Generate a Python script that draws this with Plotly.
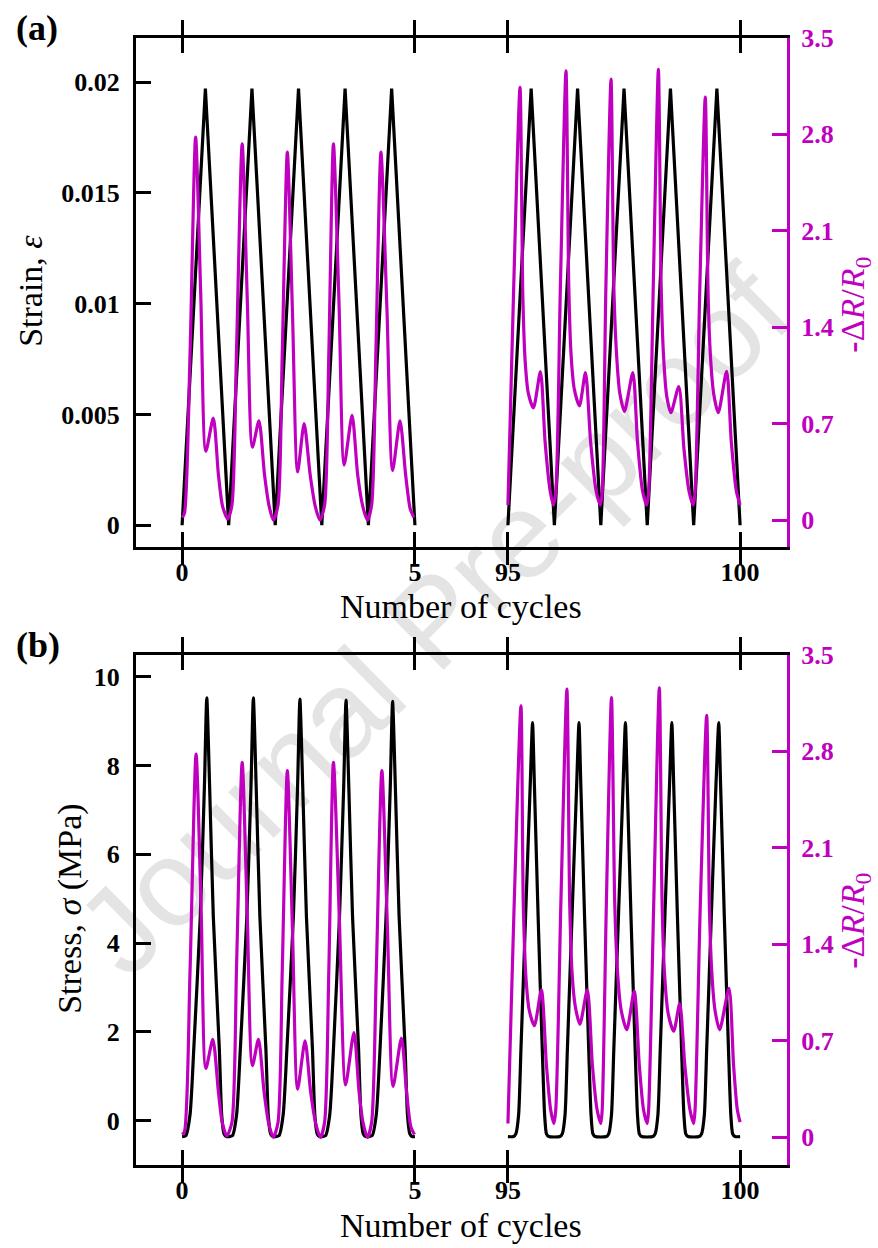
import plotly.graph_objects as go

# ---------------- data ----------------
# Panel (a): strain (black, left axis)
strain_x1 = [0, 0.5, 1, 1.5, 2, 2.5, 3, 3.5, 4, 4.5, 5]
strain_y1 = [0, 0.0197, 0, 0.0197, 0, 0.0197, 0, 0.0197, 0, 0.0197, 0]
strain_x2 = [95, 95.5, 96, 96.5, 97, 97.5, 98, 98.5, 99, 99.5, 100]
strain_y2 = [0, 0.0197, 0, 0.0197, 0, 0.0197, 0, 0.0197, 0, 0.0197, 0]

# Panel (a): -dR/R0 (magenta, right axis)
res_a_x1 = [0.00, 0.05, 0.17, 0.29, 0.40, 0.51, 0.67, 0.78, 0.87, 0.98,
            1.07, 1.17, 1.29, 1.40, 1.51, 1.65, 1.77, 1.87, 1.96,
            2.06, 2.15, 2.26, 2.37, 2.48, 2.62, 2.75, 2.86, 2.96,
            3.06, 3.15, 3.25, 3.37, 3.48, 3.65, 3.77, 3.88, 3.98,
            4.07, 4.16, 4.27, 4.40, 4.52, 4.68, 4.80, 4.90, 4.98]
res_a_y1 = [0.02, 0.05, 1.20, 2.78, 1.64, 0.50, 0.74, 0.33, 0.10, 0.01,
            0.11, 1.25, 2.73, 1.60, 0.53, 0.72, 0.33, 0.10, 0.00,
            0.11, 1.20, 2.67, 1.51, 0.35, 0.70, 0.33, 0.10, 0.00,
            0.11, 1.20, 2.73, 1.57, 0.40, 0.76, 0.33, 0.10, 0.00,
            0.11, 1.20, 2.67, 1.52, 0.36, 0.72, 0.33, 0.08, 0.02]
res_a_x2 = [95.00, 95.12, 95.26, 95.32, 95.37, 95.44, 95.55, 95.70, 95.80, 95.91, 95.98,
            96.03, 96.13, 96.25, 96.31, 96.36, 96.43, 96.54, 96.67, 96.78, 96.90, 96.99,
            97.03, 97.11, 97.22, 97.28, 97.34, 97.41, 97.51, 97.69, 97.79, 97.90, 97.99,
            98.03, 98.13, 98.24, 98.30, 98.35, 98.42, 98.51, 98.68, 98.79, 98.90, 98.99,
            99.03, 99.13, 99.25, 99.31, 99.36, 99.43, 99.53, 99.71, 99.81, 99.92, 100.00]
res_a_y2 = [0.11, 1.64, 3.14, 1.64, 1.16, 0.92, 0.815, 1.078, 0.57, 0.21, 0.11,
            0.20, 1.70, 3.26, 1.70, 1.20, 0.95, 0.83, 1.07, 0.57, 0.21, 0.11,
            0.20, 1.70, 3.20, 1.70, 1.20, 0.92, 0.79, 1.07, 0.57, 0.21, 0.11,
            0.20, 1.70, 3.27, 1.70, 1.20, 0.90, 0.78, 0.97, 0.52, 0.21, 0.11,
            0.20, 1.65, 3.07, 1.65, 1.20, 0.92, 0.78, 1.08, 0.57, 0.21, 0.11]

# Panel (b): stress in MPa (black, left axis)
stress_x1 = [0.00, 0.08, 0.17, 0.25, 0.39, 0.48, 0.53, 0.59, 0.67, 0.80, 0.85, 0.90, 0.95,
             1.08, 1.17, 1.25, 1.39, 1.48, 1.53, 1.59, 1.67, 1.80, 1.85, 1.90, 1.95,
             2.08, 2.17, 2.25, 2.39, 2.48, 2.53, 2.59, 2.67, 2.80, 2.85, 2.90, 2.95,
             3.08, 3.17, 3.25, 3.38, 3.47, 3.52, 3.58, 3.66, 3.79, 3.84, 3.89, 3.94,
             4.08, 4.17, 4.25, 4.38, 4.47, 4.52, 4.58, 4.66, 4.79, 4.84, 4.89, 4.94, 5.00]
stress_y1 = [-0.36, -0.34, 0.13, 1.60, 4.60, 7.56, 9.53, 7.56, 4.60, 1.60, 0.13, -0.30, -0.36,
             -0.34, 0.13, 1.60, 4.60, 7.56, 9.53, 7.56, 4.60, 1.60, 0.13, -0.30, -0.36,
             -0.34, 0.13, 1.60, 4.60, 7.54, 9.50, 7.54, 4.60, 1.60, 0.13, -0.30, -0.36,
             -0.34, 0.13, 1.60, 4.60, 7.52, 9.48, 7.52, 4.60, 1.60, 0.13, -0.30, -0.36,
             -0.34, 0.13, 1.60, 4.60, 7.50, 9.45, 7.50, 4.60, 1.60, 0.13, -0.30, -0.36, -0.36]
stress_x2 = [95.00, 95.12, 95.17, 95.23, 95.28, 95.38, 95.48, 95.53, 95.57, 95.65, 95.74, 95.79, 95.83, 95.88,
             96.12, 96.17, 96.23, 96.28, 96.38, 96.48, 96.53, 96.57, 96.65, 96.74, 96.79, 96.83, 96.88,
             97.12, 97.17, 97.23, 97.28, 97.38, 97.48, 97.53, 97.57, 97.65, 97.74, 97.79, 97.83, 97.88,
             98.12, 98.17, 98.23, 98.28, 98.38, 98.48, 98.53, 98.57, 98.65, 98.74, 98.79, 98.83, 98.88,
             99.12, 99.17, 99.23, 99.28, 99.38, 99.48, 99.54, 99.58, 99.66, 99.75, 99.80, 99.84, 99.89, 100.00]
stress_y2 = [-0.36, -0.36, -0.30, 0.13, 1.60, 4.60, 7.56, 8.97, 7.56, 4.60, 1.60, 0.13, -0.30, -0.36,
             -0.36, -0.30, 0.13, 1.60, 4.60, 7.56, 8.97, 7.56, 4.60, 1.60, 0.13, -0.30, -0.36,
             -0.36, -0.30, 0.13, 1.60, 4.60, 7.56, 8.97, 7.56, 4.60, 1.60, 0.13, -0.30, -0.36,
             -0.36, -0.30, 0.13, 1.60, 4.60, 7.56, 8.97, 7.56, 4.60, 1.60, 0.13, -0.30, -0.36,
             -0.36, -0.30, 0.13, 1.60, 4.60, 7.56, 8.97, 7.56, 4.60, 1.60, 0.13, -0.30, -0.36, -0.36]

# Panel (b): -dR/R0 (magenta, right axis)
res_b_x1 = [0.00, 0.05, 0.17, 0.30, 0.41, 0.51, 0.66, 0.78, 0.86, 0.96,
            1.07, 1.17, 1.29, 1.40, 1.51, 1.64, 1.76, 1.86, 1.96,
            2.06, 2.15, 2.26, 2.37, 2.48, 2.64, 2.76, 2.87, 2.97,
            3.06, 3.15, 3.25, 3.38, 3.51, 3.69, 3.80, 3.89, 3.98,
            4.07, 4.17, 4.29, 4.41, 4.53, 4.71, 4.82, 4.91, 4.99]
res_b_y1 = [0.02, 0.04, 1.20, 2.78, 1.64, 0.50, 0.71, 0.33, 0.11, 0.01,
            0.11, 1.25, 2.72, 1.60, 0.52, 0.71, 0.33, 0.10, 0.00,
            0.11, 1.20, 2.66, 1.51, 0.35, 0.70, 0.33, 0.10, 0.00,
            0.11, 1.20, 2.72, 1.55, 0.38, 0.76, 0.33, 0.10, 0.00,
            0.11, 1.20, 2.66, 1.51, 0.37, 0.72, 0.33, 0.08, 0.02]
res_b_x2 = [95.00, 95.13, 95.28, 95.33, 95.39, 95.46, 95.57, 95.72, 95.83, 95.92, 95.99,
            96.03, 96.14, 96.27, 96.33, 96.38, 96.45, 96.55, 96.71, 96.82, 96.92, 97.00,
            97.03, 97.12, 97.23, 97.30, 97.36, 97.44, 97.56, 97.72, 97.83, 97.92, 98.00,
            98.03, 98.14, 98.26, 98.32, 98.37, 98.45, 98.57, 98.70, 98.81, 98.92, 99.00,
            99.03, 99.14, 99.28, 99.34, 99.39, 99.46, 99.56, 99.76, 99.86, 99.94, 100.00]
res_b_y2 = [0.10, 1.64, 3.13, 1.70, 1.15, 0.92, 0.81, 1.07, 0.52, 0.20, 0.10,
            0.20, 1.70, 3.25, 1.70, 1.20, 0.95, 0.82, 1.07, 0.52, 0.20, 0.10,
            0.20, 1.70, 3.19, 1.70, 1.20, 0.92, 0.78, 1.06, 0.52, 0.20, 0.10,
            0.20, 1.70, 3.26, 1.70, 1.20, 0.90, 0.77, 0.97, 0.52, 0.20, 0.10,
            0.20, 1.65, 3.06, 1.65, 1.20, 0.92, 0.78, 1.08, 0.52, 0.20, 0.11]

# axis ticks
x_ticks_left = [0, 5]
x_ticks_right = [95, 100]
strain_ticks = [0, 0.005, 0.01, 0.015, 0.02]
strain_ticktext = ["0", "0.005", "0.01", "0.015", "0.02"]
stress_ticks = [0, 2, 4, 6, 8, 10]
res_ticks = [0, 0.7, 1.4, 2.1, 2.8, 3.5]
res_ticktext = ["0", "0.7", "1.4", "2.1", "2.8", "3.5"]

# ---------------- styling ----------------
W, H = 878, 1248
MAG = "#bf00bf"
BLK = "#000000"
SERIF = "Liberation Serif, Times New Roman, serif"
TICKFONT = dict(family=SERIF, size=26, color=BLK, weight="bold")
TICKFONT_M = dict(family=SERIF, size=26, color=MAG, weight="bold")
TITLEFONT = dict(family=SERIF, size=34, color=BLK)

XL, XM, XR = 136 / W, 461.5 / W, 787 / W
YA = [1 - 539 / H, 1 - 24 / H]
YB = [1 - 1164 / H, 1 - 648 / H]

fig = go.Figure()

def line(x, y, xa, ya, color, shape="linear", smooth=1.0):
    kw = dict(color=color, width=3.2, shape=shape)
    if shape == "spline":
        kw["smoothing"] = smooth
    fig.add_trace(go.Scatter(x=x, y=y, xaxis=xa, yaxis=ya, mode="lines",
                             line=kw, showlegend=False, hoverinfo="skip"))

# panel (a)
line(strain_x1, strain_y1, "x", "y", BLK)
line(strain_x2, strain_y2, "x2", "y", BLK)
line(res_a_x1, res_a_y1, "x", "y2", MAG, "spline", 0.7)
line(res_a_x2, res_a_y2, "x2", "y2", MAG, "spline", 0.7)
# panel (b)
line(stress_x1, stress_y1, "x3", "y3", BLK, "spline", 0.6)
line(stress_x2, stress_y2, "x4", "y3", BLK, "spline", 0.6)
line(res_b_x1, res_b_y1, "x3", "y4", MAG, "spline", 0.7)
line(res_b_x2, res_b_y2, "x4", "y4", MAG, "spline", 0.7)

def xax(domain, rng, tv, anchor):
    return dict(domain=domain, range=rng, anchor=anchor, tickvals=tv,
                ticktext=[str(v) for v in tv], ticks="inside", ticklen=15,
                tickwidth=3, tickcolor=BLK, showline=True, linewidth=3,
                linecolor=BLK, mirror="allticks", showgrid=False, zeroline=False,
                tickfont=TICKFONT, ticklabelstandoff=0)

def yleft(domain, rng, tv, tt, anchor):
    return dict(domain=domain, range=rng, anchor=anchor, side="left",
                tickvals=tv, ticktext=tt, ticks="inside", ticklen=15,
                tickwidth=3, tickcolor=BLK, showline=True, linewidth=3,
                linecolor=BLK, showgrid=False, zeroline=False,
                tickfont=TICKFONT, ticklabelstandoff=8)

def yright(rng, overlay, anchor):
    return dict(range=rng, overlaying=overlay, anchor=anchor, side="right",
                tickvals=res_ticks, ticktext=res_ticktext, ticks="inside",
                ticklen=15, tickwidth=3, tickcolor=MAG, showline=True,
                linewidth=3, linecolor=MAG, showgrid=False, zeroline=False,
                tickfont=TICKFONT_M, ticklabelstandoff=6)

fig.update_layout(
    width=W, height=H, autosize=False,
    margin=dict(l=0, r=0, t=0, b=0, pad=0),
    paper_bgcolor="white", plot_bgcolor="rgba(0,0,0,0)",
    xaxis=xax([XL, XM], [-0.99, 6.0], x_ticks_left, "y"),
    xaxis2=xax([XM, XR], [94.0, 101.01], x_ticks_right, "y"),
    yaxis=yleft(YA, [-0.00098, 0.0220], strain_ticks, strain_ticktext, "x"),
    yaxis2=yright([-0.194, 3.5], "y", "x2"),
    xaxis3=xax([XL, XM], [-0.99, 6.0], x_ticks_left, "y3"),
    xaxis4=xax([XM, XR], [94.0, 101.01], x_ticks_right, "y3"),
    yaxis3=yleft(YB, [-1.0, 10.5], stress_ticks, [str(v) for v in stress_ticks], "x3"),
    yaxis4=yright([-0.2, 3.5], "y3", "x4"),
)

# watermark (drawn under the data)
cx, cy = 425 / W, 1 - 605 / H
fig.add_shape(type="line", xref="paper", yref="paper",
              x0=cx - 100 / W, y0=cy - 100 / H, x1=cx + 100 / W, y1=cy + 100 / H,
              line=dict(color="rgba(0,0,0,0)", width=1), layer="below",
              label=dict(text="Journal Pre-proof", textposition="middle",
                         yanchor="middle",
                         font=dict(family="Liberation Sans, Arial, sans-serif",
                                   size=122, color="#e4e4e4")))

def ann(text, x, y, font, angle=0, xanchor="center"):
    fig.add_annotation(text=text, xref="paper", yref="paper", x=x / W, y=1 - y / H,
                       showarrow=False, font=font, textangle=angle,
                       xanchor=xanchor, yanchor="middle")

PANEL = dict(family=SERIF, size=36, color=BLK, weight="bold")
ann("(a)", 14, 14, PANEL, xanchor="left")
ann("(b)", 14, 638, PANEL, xanchor="left")
ann("Number of cycles", 461, 599, TITLEFONT)
ann("Number of cycles", 461, 1225, TITLEFONT)
ann("Strain, <i>ε</i>", 31, 280, TITLEFONT, -90)
ann("Stress, <i>σ</i> (MPa)", 70, 905, TITLEFONT, -90)
RT = dict(family=SERIF, size=34, color=MAG)
ann("<b>-</b>Δ<i>R</i>/<i>R</i><sub>0</sub>", 855, 294, RT, -90)
ann("<b>-</b>Δ<i>R</i>/<i>R</i><sub>0</sub>", 855, 917, RT, -90)

fig.write_html("out.html", config={"displayModeBar": False},
               post_script="document.body.style.margin='0';"
                           "document.body.style.overflow='hidden';")
